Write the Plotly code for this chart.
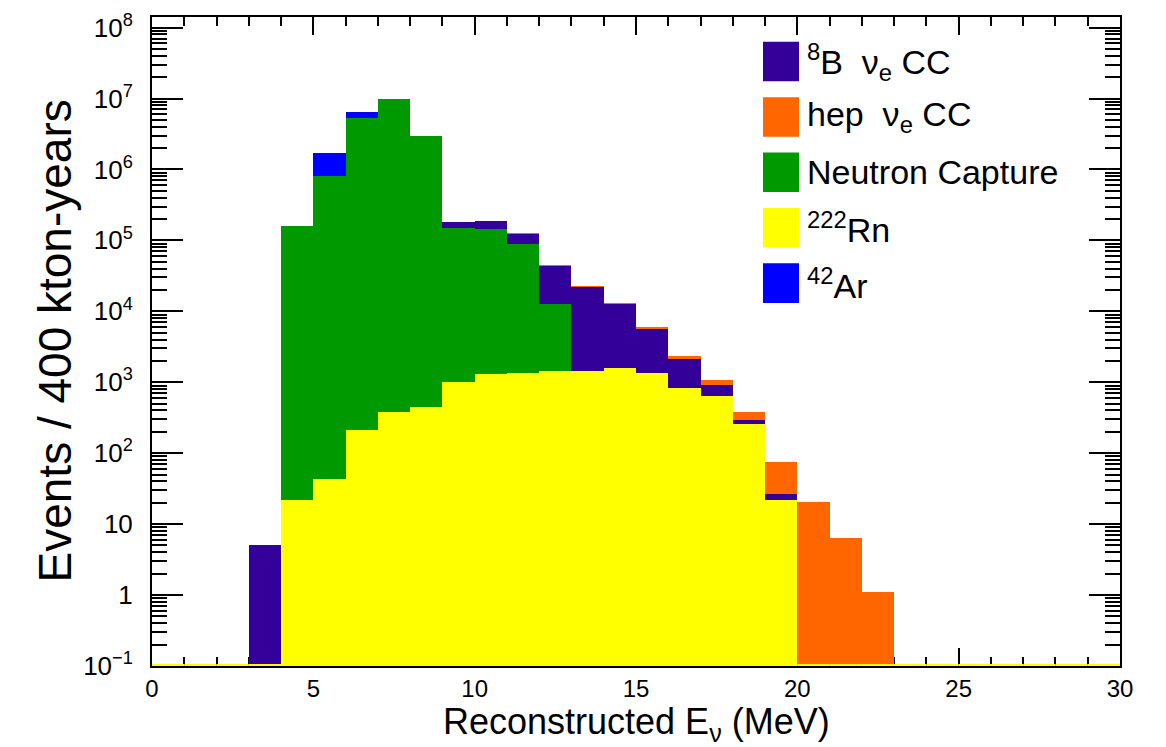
import numpy as np
import plotly.graph_objects as go

# ---------------- data (events / 400 kton-years, 1 MeV bins from 0 to 30 MeV) ----------------
bin_edges = list(range(0, 31))

rn222 = [0, 0, 0, 0, 21.7, 42.7, 209, 386, 453, 1010,
         1320, 1350, 1440, 1460, 1580, 1360, 834, 637, 259, 21.7,
         0, 0, 0, 0, 0, 0, 0, 0, 0, 0]
neutron_capture = [0, 0, 0, 0, 1.59e5, 8.0e5, 5.25e6, 9.7e6, 2.97e6, 1.50e5,
                   1.42e5, 8.66e4, 1.12e4, 0, 0, 0, 0, 0, 0, 0,
                   0, 0, 0, 0, 0, 0, 0, 0, 0, 0]
ar42 = [0, 0, 0, 0, 0, 9.2e5, 1.19e6, 0, 0, 0,
        0, 0, 0, 0, 0, 0, 0, 0, 0, 0,
        0, 0, 0, 0, 0, 0, 0, 0, 0, 0]
b8_nue_cc = [0, 0, 0, 5.0, 0, 0, 0, 0, 0, 3.2e4,
             4.2e4, 3.6e4, 3.19e4, 2.11e4, 1.12e4, 4.44e3, 1.29e3, 271, 36, 4.7,
             0, 0, 0, 0, 0, 0, 0, 0, 0, 0]
hep_nue_cc = [0, 0, 0, 0, 0, 0, 0, 0, 0, 20,
              40, 70, 100, 100, 120, 100, 190, 152, 91, 48.3,
              20.2, 6.34, 1.09, 0.108, 0, 0, 0, 0, 0, 0]

# stacking order, bottom to top
stack_series = [
    ("<sup>222</sup>Rn", rn222, "#ffff00"),
    ("Neutron Capture", neutron_capture, "#009900"),
    ("<sup>42</sup>Ar", ar42, "#0000ff"),
    ("<sup>8</sup>B  \u03bd<sub>e</sub> CC", b8_nue_cc, "#330099"),
    ("hep  \u03bd<sub>e</sub> CC", hep_nue_cc, "#ff6600"),
]
legend_order = [3, 4, 1, 0, 2]

y_tick_vals = [1e-1, 1, 10, 1e2, 1e3, 1e4, 1e5, 1e6, 1e7, 1e8]
y_tick_text = ["10<sup>\u22121</sup>", "1", "10", "10<sup>2</sup>", "10<sup>3</sup>",
               "10<sup>4</sup>", "10<sup>5</sup>", "10<sup>6</sup>", "10<sup>7</sup>", "10<sup>8</sup>"]
x_tick_vals = [0, 5, 10, 15, 20, 25, 30]

# ---------------- figure ----------------
edges = np.array(bin_edges, dtype=float)
centers = 0.5 * (edges[:-1] + edges[1:])
widths = edges[1:] - edges[:-1]

y_log_min, y_log_max = -1.0, 8.149
FONT = "Liberation Sans, Arial, Helvetica, sans-serif"

fig = go.Figure()
for name, vals, col in stack_series:
    fig.add_trace(go.Bar(x=centers, y=vals, width=widths, name=name,
                         marker=dict(color=col, line=dict(width=0)),
                         showlegend=False, hoverinfo="skip"))

# outline of the Rn histogram at zero-valued bins (drawn at the bottom of the frame)
ymin_val = 10 ** y_log_min
lx, ly = [], []
for i, v in enumerate(rn222):
    if v <= 0:
        lx += [edges[i], edges[i + 1], None]
        ly += [ymin_val, ymin_val, None]
fig.add_trace(go.Scatter(x=lx, y=ly, mode="lines", line=dict(color="#ffff00", width=4),
                         showlegend=False, hoverinfo="skip"))

fig.update_layout(
    width=1166, height=747,
    margin=dict(l=152, r=46, t=10, b=81),
    paper_bgcolor="white", plot_bgcolor="white",
    barmode="stack", bargap=0, bargroupgap=0,
    showlegend=False,
    font=dict(family=FONT, color="black", size=26),
)

fig.update_xaxes(
    range=[0, 30], tickmode="array", tickvals=x_tick_vals,
    ticks="inside", ticklen=18, tickwidth=2, tickcolor="black",
    minor=dict(ticks="inside", ticklen=9, tickwidth=2, tickcolor="black", dtick=1, tick0=0, showgrid=False),
    showline=True, linecolor="black", linewidth=2, mirror="ticks",
    showgrid=False, zeroline=False, layer="below traces",
    tickfont=dict(size=24, family=FONT), ticklabelstandoff=0,
)
fig.update_yaxes(
    type="log", range=[y_log_min, y_log_max], tickmode="array",
    tickvals=y_tick_vals, ticktext=y_tick_text,
    ticks="inside", ticklen=31, tickwidth=2, tickcolor="black",
    minor=dict(ticks="inside", ticklen=15, tickwidth=2, tickcolor="black", dtick="D1", showgrid=False),
    showline=True, linecolor="black", linewidth=2, mirror="ticks",
    showgrid=False, zeroline=False, layer="below traces",
    tickfont=dict(size=26, family=FONT), ticklabelstandoff=12,
)

# axis titles
plot_w = 1166 - 152 - 46
plot_h = 747 - 10 - 81
fig.add_annotation(text="Events / 400 kton-years", xref="paper", yref="paper",
                   x=(54 - 152) / plot_w, y=0.5, textangle=-90, showarrow=False,
                   xanchor="center", yanchor="middle", font=dict(size=46, family=FONT, color="black"))
fig.add_annotation(text="Reconstructed E<sub>\u03bd</sub> (MeV)", xref="paper", yref="paper",
                   x=0.5, y=(666 - 749) / plot_h, showarrow=False, borderpad=0,
                   xanchor="center", yanchor="bottom", font=dict(size=36, family=FONT, color="black"))

# legend (drawn as boxes + labels, ROOT style)
leg_x0_px, leg_x1_px = 763, 799
leg_top_px, leg_row_px, leg_box_h = 35, 56, 40
for row, idx in enumerate(legend_order):
    name, _, col = stack_series[idx]
    y0 = leg_top_px + row * leg_row_px
    y1 = y0 + leg_box_h
    fig.add_shape(type="rect", xref="paper", yref="paper",
                  x0=(leg_x0_px - 152) / plot_w, x1=(leg_x1_px - 152) / plot_w,
                  y0=(666 - y1) / plot_h, y1=(666 - y0) / plot_h,
                  fillcolor=col, line=dict(width=0))
    fig.add_annotation(text=name, xref="paper", yref="paper",
                       x=(805 - 152) / plot_w, y=(666 - (y0 + y1) / 2) / plot_h,
                       xanchor="left", yanchor="middle", showarrow=False,
                       font=dict(size=34, family=FONT, color="black"))

fig.write_html("out.html", config={"displayModeBar": False},
               post_script="document.body.style.margin='0';")
